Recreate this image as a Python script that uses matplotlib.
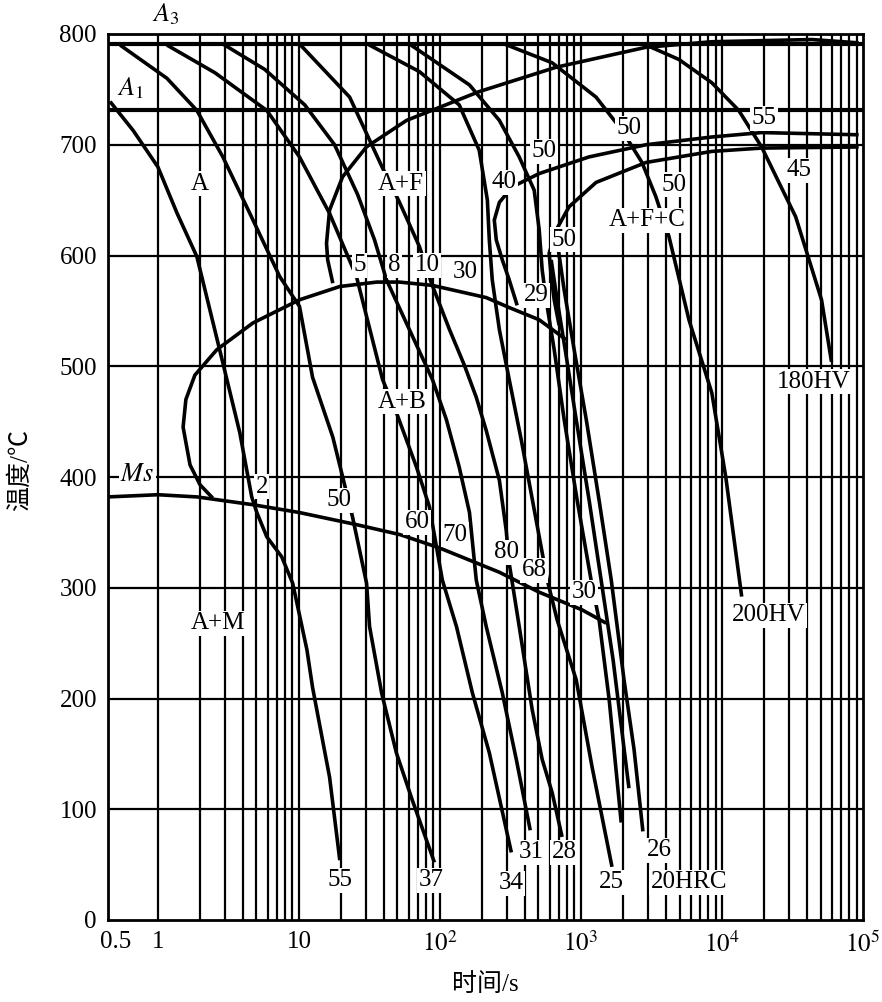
import matplotlib.pyplot as plt

plt.rcParams['font.family'] = ['Liberation Serif', 'Noto Sans CJK SC']
plt.rcParams['mathtext.fontset'] = 'stix'

# critical temperatures
A3 = 791
A1 = 731

# Ms line
ms_t = [0.44, 1.0, 1.9, 4.7, 10, 25.6, 52, 99, 264, 505, 1020, 1510]
ms_T = [382, 384, 382, 375, 368, 357, 348, 336, 314, 296, 280, 268]

# bainite start
bs_t = [2.45, 1.99, 1.69, 1.51, 1.58, 1.83, 2.62, 4.71, 10.1, 19.5, 35.6, 51.7, 88.5, 213, 310, 505, 785]
bs_T = [381, 393, 411, 445, 470, 492, 515, 539, 560, 572, 576, 576, 573, 562, 553, 542, 524]

# ferrite start
fs_t = [17.4, 16.0, 15.7, 16.5, 20.4, 30.1, 58, 190, 667, 2890, 8470, 43300, 93100]
fs_T = [575, 596, 611, 641, 671, 698, 722, 748, 770, 788, 793, 795, 792]

# pearlite curves
p1_t = [93100, 19100, 8470, 2890, 1140, 506, 326, 264, 243, 251, 277, 310, 353]
p1_T = [709, 711, 707, 700, 689, 674, 662, 648, 632, 614, 596, 578, 555]
p2_t = [93100, 19100, 8470, 2890, 1280, 824, 667, 595, 615, 646, 700]
p2_T = [698, 697, 694, 684, 666, 644, 623, 602, 581, 560, 537]

# cooling curves
c55_t = [0.458, 0.667, 1.0, 1.37, 1.89, 2.89, 3.81, 4.63, 5.03, 5.92, 7.55, 9.04, 11.4, 12.5, 16.5, 19.5]
c55_T = [739, 713, 680, 638, 599, 503, 440, 382, 368, 346, 328, 304, 244, 210, 129, 54]

c37_t = [0.54, 1.16, 1.89, 2.89, 4.49, 7.31, 10.1, 12.5, 17.4, 24.0, 30.2, 31.7, 38.6, 49.1, 63.8, 91.4]
c37_T = [790, 760, 731, 689, 638, 581, 554, 490, 436, 364, 304, 265, 205, 151, 108, 52]

c34_t = [1.16, 2.54, 5.92, 10.1, 16.5, 25.6, 39.2, 49.2, 68.2, 84.3, 94.5, 104, 131, 170, 224, 321]
c34_T = [790, 765, 731, 689, 638, 581, 488, 458, 409, 373, 337, 307, 265, 205, 151, 61]

c31_t = [2.89, 5.73, 11.0, 17.9, 26.1, 34.4, 41.8, 60.8, 88.5, 111, 137, 162, 181, 213, 277, 348, 437]
c31_T = [791, 768, 736, 700, 655, 614, 578, 533, 488, 452, 409, 368, 307, 265, 205, 145, 81]

c28_t = [10.1, 22.9, 39.2, 51.7, 71.6, 87.1, 117, 149, 181, 213, 264, 295, 310, 365, 451, 531, 625, 735]
c28_T = [791, 743, 679, 648, 608, 575, 533, 501, 472, 442, 397, 352, 322, 265, 190, 145, 115, 75]

c25_t = [30.6, 71.6, 137, 190, 217, 224, 235, 264, 310, 378, 467, 577, 678, 925, 1200, 1660]
c25_T = [791, 766, 736, 695, 650, 614, 578, 533, 488, 433, 370, 307, 271, 217, 138, 48]

c26_t = [60.7, 162, 264, 365, 466, 506, 531, 566, 646, 760, 940, 1180, 1345, 1585, 1930]
c26_T = [791, 754, 722, 689, 659, 623, 587, 560, 515, 452, 379, 307, 271, 199, 88]

c26b_t = [615, 678, 773, 925, 1143, 1390, 1690, 2190]
c26b_T = [596, 560, 515, 452, 379, 307, 235, 119]

c20_t = [667, 760, 895, 1090, 1345, 1640, 2020, 2380, 2750]
c20_T = [619, 569, 515, 452, 379, 307, 217, 154, 80]

hv200_t = [286, 625, 1280, 1955, 2710, 3400, 4210, 5830, 8470, 10640, 13800]
hv200_T = [791, 774, 743, 713, 684, 653, 617, 542, 476, 400, 292]

hv180_t = [2900, 4950, 8470, 13150, 19100, 33300, 50800, 59800]
hv180_T = [790, 777, 756, 731, 698, 635, 560, 504]

cooling = [(c55_t, c55_T), (c37_t, c37_T), (c34_t, c34_T), (c31_t, c31_T),
           (c28_t, c28_T), (c25_t, c25_T), (c26_t, c26_T), (c26b_t, c26b_T),
           (c20_t, c20_T), (hv200_t, hv200_T), (hv180_t, hv180_T)]

# text labels (time, temperature, text)
labels = [
    (1.99, 665, 'A'), (53, 665, 'A+F'), (54, 468, 'A+B'), (2.67, 268, 'A+M'),
    (2950, 632, 'A+F+C'),
    (27, 591, '5'), (47.6, 591, '8'), (81.5, 591, '10'), (151, 585, '30'),
    (482, 564, '29'), (286, 666, '40'), (548, 694, '50'), (2190, 715, '50'),
    (4560, 664, '50'), (760, 614, '50'), (19800, 724, '55'), (35000, 677, '45'),
    (5.45, 391, '2'), (19.4, 379, '50'), (69, 359, '60'), (127, 348, '70'),
    (296, 332, '80'), (466, 316, '68'), (1050, 296, '30'),
    (19.5, 36, '55'), (87, 36, '37'), (321, 33, '34'), (444, 61, '31'),
    (759, 61, '28'), (1633, 34, '25'), (3570, 63, '26'), (5820, 34, '20HRC'),
    (21400, 275, '200HV'), (44700, 486, '180HV'),
]

fig = plt.figure(figsize=(8.82, 10.02), dpi=100)
ax = fig.add_axes([108 / 882, 82 / 1002, 755 / 882, 886 / 1002])

ax.set_xscale('log')
ax.set_xlim(0.443, 1e5)
ax.set_ylim(0, 800)

# grid: every integer multiple within each decade
for k in range(0, 5):
    for m in range(1, 10):
        ax.axvline(m * 10 ** k, color='black', lw=1.6, zorder=1)
for v in range(100, 800, 100):
    ax.axhline(v, color='black', lw=1.6, zorder=1)

lw = 2.6
ax.axhline(A3, color='black', lw=3.0, zorder=2)
ax.axhline(A1, color='black', lw=3.0, zorder=2)
for t, T in [(ms_t, ms_T), (bs_t, bs_T), (fs_t, fs_T), (p1_t, p1_T), (p2_t, p2_T)] + cooling:
    ax.plot(t, T, color='black', lw=lw, zorder=3, solid_capstyle='butt')

box = dict(facecolor='white', edgecolor='none', pad=1.0)
fs = 18
for x, y, s in labels:
    ax.text(x, y, s, fontsize=fs, ha='center', va='center', bbox=box, zorder=5)

ax.text(0.636, 751, '$A_1$', fontsize=fs + 1, ha='center', va='center')
ax.text(1.13, 818, '$A_3$', fontsize=fs + 1, ha='center', va='center', clip_on=False)
ax.text(0.713, 402, '$Ms$', fontsize=fs + 1, ha='center', va='center', bbox=box, zorder=5)

ax.set_xticks([0.5, 1, 10, 100, 1000, 1e4, 1e5])
ax.set_xticklabels(['0.5', '1', '10', '$10^2$', '$10^3$', '$10^4$', '$10^5$'])
ax.set_xticks([], minor=True)
ax.set_yticks(range(0, 801, 100))
ax.tick_params(axis='both', length=0, labelsize=fs, pad=8)
for s in ax.spines.values():
    s.set_linewidth(2)

fig.text(485 / 882, 1 - 985 / 1002, '时间/s', fontsize=fs, ha='center', va='center')
fig.text(20 / 882, 1 - 470 / 1002, '温度/℃', fontsize=fs, ha='center', va='center', rotation=90)

fig.savefig('out.png', dpi=100)
